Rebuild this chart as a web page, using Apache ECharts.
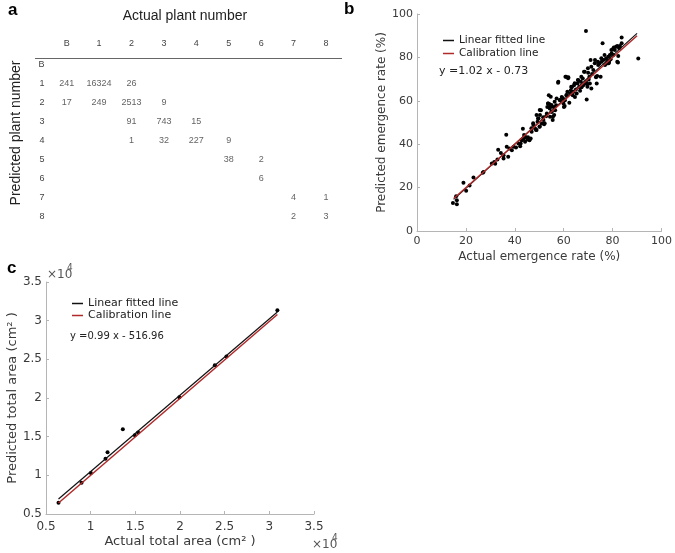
<!DOCTYPE html>
<html lang="en">
<head>
    <meta charset="UTF-8">
    <title>Plant number, emergence rate and total area</title>
    <script src="https://cdn.jsdelivr.net/npm/echarts@6.0.0/dist/echarts.min.js"></script>
</head>
<style>
    body{
        margin:0;
        background-color:#fff;
    }
    #main{
        width:675px;
        height:553px;
    }
</style>
<body>
<div id="main"></div>
</body>
<script>
    // a: confusion table (rows = predicted, columns = actual)
    var colLabels = ['B', '1', '2', '3', '4', '5', '6', '7', '8'];
    var rowLabels = ['B', '1', '2', '3', '4', '5', '6', '7', '8'];
    var tableValues = [
        [null, null, null, null, null, null, null, null, null],
        [241, 16324, 26, null, null, null, null, null, null],
        [17, 249, 2513, 9, null, null, null, null, null],
        [null, null, 91, 743, 15, null, null, null, null],
        [null, null, 1, 32, 227, 9, null, null, null],
        [null, null, null, null, null, 38, 2, null, null],
        [null, null, null, null, null, null, 6, null, null],
        [null, null, null, null, null, null, null, 4, 1],
        [null, null, null, null, null, null, null, 2, 3]
    ];

    // b: emergence rate (%) [actual, predicted]
    var emergencePoints = [
        [14.7, 12.9], [16.3, 12.3], [16.3, 14.2], [16, 16], [19, 22.2], [20.1, 18.5], [21.5, 21],
        [23.1, 24.6], [26.9, 26.8], [27.2, 27.2], [30.6, 31.1], [31.6, 31.8], [32, 31], [32.9, 32.9],
        [33.2, 37.5], [34.3, 36], [35.4, 34.9], [35.4, 33.4], [36.5, 44.3], [36.7, 38.8], [37.3, 34.2],
        [37.8, 38], [38.8, 37.2], [39.5, 38.8], [40.5, 38.5], [41.5, 40.3], [42.2, 39.1], [42.4, 40.3],
        [42.9, 41.8], [43.3, 47.1], [43.5, 42.6], [43.8, 44.2], [44.2, 41.1], [44.6, 43.1], [45.2, 42.2],
        [46, 41.8], [46.5, 42.6], [46.9, 45.7], [47.6, 48.8], [48.3, 47.2], [48.7, 46.5], [49.3, 50.3],
        [49.7, 51.8], [50.1, 48], [50.3, 53.4], [50.7, 55.7], [51, 49.5], [51.7, 51.1], [52, 49.2],
        [52.8, 52.9], [53.1, 54.2], [53.3, 57.2], [53.6, 58.8], [53.9, 62.6], [54.1, 58.5], [54.4, 52.6],
        [54.7, 57.5], [55.1, 54.9], [55.5, 51.1], [55.8, 57.2], [56.1, 53.4], [56.5, 55.7], [56.9, 58],
        [57.1, 61.1], [57.8, 68.8], [58.5, 60.3], [59.2, 61.8], [59.9, 58.8], [60.1, 57.2], [60.5, 60.3],
        [61, 71.1], [61.2, 62.6], [61.5, 64.2], [61.9, 70.8], [62.3, 59.1], [62.6, 63.4], [62.9, 64.9],
        [63.3, 66.2], [63.7, 62.6], [63.9, 64.2], [64.2, 67.2], [64.6, 61.8], [65, 65.2], [65.3, 63.4],
        [65.6, 68], [66, 69.5], [66.4, 66.2], [66.7, 64.6], [67, 68.8], [67.3, 66.2], [67.8, 70.3],
        [68, 67.2], [68.3, 73.4], [68.7, 68], [69.1, 92.2], [69.1, 68.8], [69.4, 60.6], [69.7, 66.5],
        [70, 72.9], [70.2, 69.8], [70.5, 71.1], [70.7, 68], [71, 78.8], [71.3, 65.7], [71.6, 72.3],
        [72.1, 74.2], [72.8, 78.8], [73.2, 70.8], [73.5, 68], [73.7, 71.4], [74.1, 76.5], [74.6, 77.2],
        [75.1, 71.1], [75.5, 78], [75.9, 86.5], [76.2, 78.8], [76.9, 76.5], [77.3, 79.5], [77.6, 77.2],
        [77.8, 78.5], [78.2, 80.3], [78.6, 78], [78.9, 81.1], [79.2, 79.1], [79.6, 81.8], [80, 83.7],
        [80.3, 81.1], [80.5, 84.6], [80.9, 83.4], [81.4, 84.9], [81.9, 78], [82.3, 80.6], [82.7, 84.2],
        [83, 85.2], [83.7, 89.2], [83.7, 86.5], [90.5, 79.5],
        [76.7, 81.1], [75.4, 79.6], [74, 78], [78.4, 77.3], [82.2, 77.6], [72.7, 77.3], [71.3, 75.7],
        [69.9, 75], [73.3, 71.1], [68.6, 73.4], [67.2, 71.1], [65.8, 69.6], [69.7, 67.7], [64.5, 68.1],
        [66.5, 66.5], [63.1, 66.5], [63.8, 64.2], [60.7, 71.1], [61.8, 70.4], [57.7, 68.3], [61.1, 62.7],
        [59.7, 61.2], [58.4, 60.4], [60.4, 57.6], [56.3, 59.6], [55, 58.1], [54.3, 56.5], [53.6, 58.8],
        [54.7, 61.9], [50.2, 55.8], [48.9, 53.5], [49.5, 51.9], [51.6, 52.4], [52.2, 49.6], [50.2, 48.1],
        [48.9, 46.5], [46.8, 47.3], [47.5, 49.6], [55.6, 52.7], [55, 55], [44.1, 43.5], [45.4, 43.2],
        [42.7, 41.9], [81.9, 85.3], [79.5, 83.4]
    ];
    var emergenceFit = [[15, 14.57], [90, 91.07]];
    var emergenceCal = [[15, 15], [90, 90]];

    // c: total area (cm2) [actual, predicted]
    var areaPoints = [
        [6400, 6460], [8980, 9040], [10020, 10290], [11660, 12130], [11890, 13000], [13600, 15960],
        [14940, 15190], [15310, 15530], [19930, 20090], [23900, 24250], [25200, 25370], [30900, 31350]
    ];
    var areaFit = [[6400, 6930], [30900, 31130]];
    var areaCal = [[6400, 6420], [30900, 30800]];

    var tableData = [];
    for (var r = 0; r < tableValues.length; r++) {
        for (var c = 0; c < tableValues[r].length; c++) {
            if (tableValues[r][c] != null) {
                tableData.push([c, r, tableValues[r][c]]);
            }
        }
    }

    var sans = '"DejaVu Sans", sans-serif';
    var arial = '"Liberation Sans", Arial, sans-serif';
    var axisGrey = '#b5b5b5';
    var textGrey = '#3a3a3a';
    var red = '#b02a2a';

    function valueAxis(grid, min, max, interval, name, gap, labelMargin, fontSize, nameSize, fmt) {
        return {
            type: 'value',
            gridIndex: grid,
            min: min,
            max: max,
            interval: interval,
            name: name,
            nameLocation: 'middle',
            nameGap: gap,
            nameTextStyle: {color: textGrey, fontSize: nameSize, fontFamily: sans},
            axisLine: {show: true, lineStyle: {color: axisGrey, width: 1}},
            axisTick: {show: true, inside: true, length: 3, lineStyle: {color: axisGrey}},
            axisLabel: {color: textGrey, fontSize: fontSize, fontFamily: sans, margin: labelMargin, formatter: fmt},
            splitLine: {show: false}
        };
    }

    function panelLetter(letter, x, y) {
        return {
            type: 'text', x: x, y: y,
            style: {text: letter, fontSize: 17, fontWeight: 'bold', fontFamily: arial, fill: '#000'}
        };
    }

    var myChart = echarts.init(document.getElementById('main'));
    myChart.setOption({
        animation: false,
        backgroundColor: '#fff',
        grid: [
            {left: 50.5, top: 54.8, width: 291.7, height: 171.4},
            {left: 417, top: 14, width: 245, height: 217},
            {left: 46, top: 282, width: 268, height: 232}
        ],
        legend: [
            {
                data: ['Linear fitted line', 'Calibration line'],
                orient: 'vertical', left: 438, top: 30, itemGap: 2,
                itemWidth: 11, itemHeight: 1.5, icon: 'rect',
                textStyle: {fontSize: 10.5, color: '#222', fontFamily: sans}
            },
            {
                data: ['Linear fitted line', 'Calibration line'],
                orient: 'vertical', left: 67, top: 293, itemGap: 1,
                itemWidth: 11, itemHeight: 1.5, icon: 'rect',
                textStyle: {fontSize: 11, color: '#222', fontFamily: sans}
            }
        ],
        xAxis: [
            {
                type: 'category', gridIndex: 0, data: colLabels, position: 'top',
                axisLine: {show: false}, axisTick: {show: false},
                axisLabel: {fontSize: 9, color: '#444', fontFamily: arial, margin: 7}
            },
            valueAxis(1, 0, 100, 20, 'Actual emergence rate (%)', 20, 5, 11, 12),
            valueAxis(2, 5000, 35000, 5000, 'Actual total area (cm\u00b2 )', 21, 7, 12, 13, function (v) { return v / 10000; })
        ],
        yAxis: [
            {
                type: 'category', gridIndex: 0, data: rowLabels, inverse: true,
                axisLine: {show: false}, axisTick: {show: false},
                axisLabel: {fontSize: 9, color: '#444', fontFamily: arial, margin: 6}
            },
            valueAxis(1, 0, 100, 20, 'Predicted emergence rate (%)', 28, 4, 11, 12),
            valueAxis(2, 5000, 35000, 5000, 'Predicted total area (cm\u00b2 )', 27, 4, 12, 13, function (v) { return v / 10000; })
        ],
        series: [
            {
                type: 'scatter', xAxisIndex: 0, yAxisIndex: 0, data: tableData,
                symbolSize: 1, itemStyle: {color: 'transparent'},
                label: {
                    show: true, position: 'inside', fontSize: 9, color: '#3a3a3a', fontFamily: arial,
                    formatter: function (p) { return p.value[2]; }
                }
            },
            {
                name: 'Linear fitted line', type: 'line', xAxisIndex: 1, yAxisIndex: 1,
                data: emergenceFit, showSymbol: false, color: '#111', lineStyle: {color: '#111', width: 1.2}
            },
            {
                name: 'Calibration line', type: 'line', xAxisIndex: 1, yAxisIndex: 1,
                data: emergenceCal, showSymbol: false, color: red, lineStyle: {color: red, width: 1.5}
            },
            {
                type: 'scatter', xAxisIndex: 1, yAxisIndex: 1, data: emergencePoints,
                symbolSize: 4, itemStyle: {color: '#000', opacity: 1}
            },
            {
                name: 'Linear fitted line', type: 'line', xAxisIndex: 2, yAxisIndex: 2,
                data: areaFit, showSymbol: false, color: '#111', lineStyle: {color: '#111', width: 1.2}
            },
            {
                name: 'Calibration line', type: 'line', xAxisIndex: 2, yAxisIndex: 2,
                data: areaCal, showSymbol: false, color: red, lineStyle: {color: red, width: 1.5}
            },
            {
                type: 'scatter', xAxisIndex: 2, yAxisIndex: 2, data: areaPoints,
                symbolSize: 4, itemStyle: {color: '#000', opacity: 1}
            }
        ],
        graphic: [
            panelLetter('a', 8, 2),
            panelLetter('b', 344, 1),
            panelLetter('c', 7, 260),
            {type: 'text', x: 185, y: 16, style: {text: 'Actual plant number', fontSize: 14, fontFamily: arial, fill: '#222', align: 'center', verticalAlign: 'middle'}},
            {type: 'text', x: 16, y: 133, rotation: Math.PI / 2, style: {text: 'Predicted plant number', fontSize: 14, fontFamily: arial, fill: '#222', align: 'center', verticalAlign: 'middle'}},
            {type: 'line', shape: {x1: 35, y1: 58.5, x2: 342, y2: 58.5}, style: {stroke: '#666', lineWidth: 1}},
            {type: 'text', x: 70, y: 336, style: {text: 'y =0.99 x - 516.96', fontSize: 10, fontFamily: sans, fill: '#222', verticalAlign: 'middle'}},
            {type: 'text', x: 439, y: 71, style: {text: 'y =1.02 x - 0.73', fontSize: 11, fontFamily: sans, fill: '#222', verticalAlign: 'middle'}},
            {type: 'text', x: 47, y: 275, style: {text: '\u00d710', fontSize: 12, fontFamily: sans, fill: '#555', verticalAlign: 'middle'}},
            {type: 'text', x: 67, y: 268, style: {text: '4', fontSize: 9, fontFamily: sans, fill: '#555', verticalAlign: 'middle'}},
            {type: 'text', x: 312, y: 545, style: {text: '\u00d710', fontSize: 12, fontFamily: sans, fill: '#555', verticalAlign: 'middle'}},
            {type: 'text', x: 332, y: 538, style: {text: '4', fontSize: 9, fontFamily: sans, fill: '#555', verticalAlign: 'middle'}}
        ]
    });
</script>
</html>
